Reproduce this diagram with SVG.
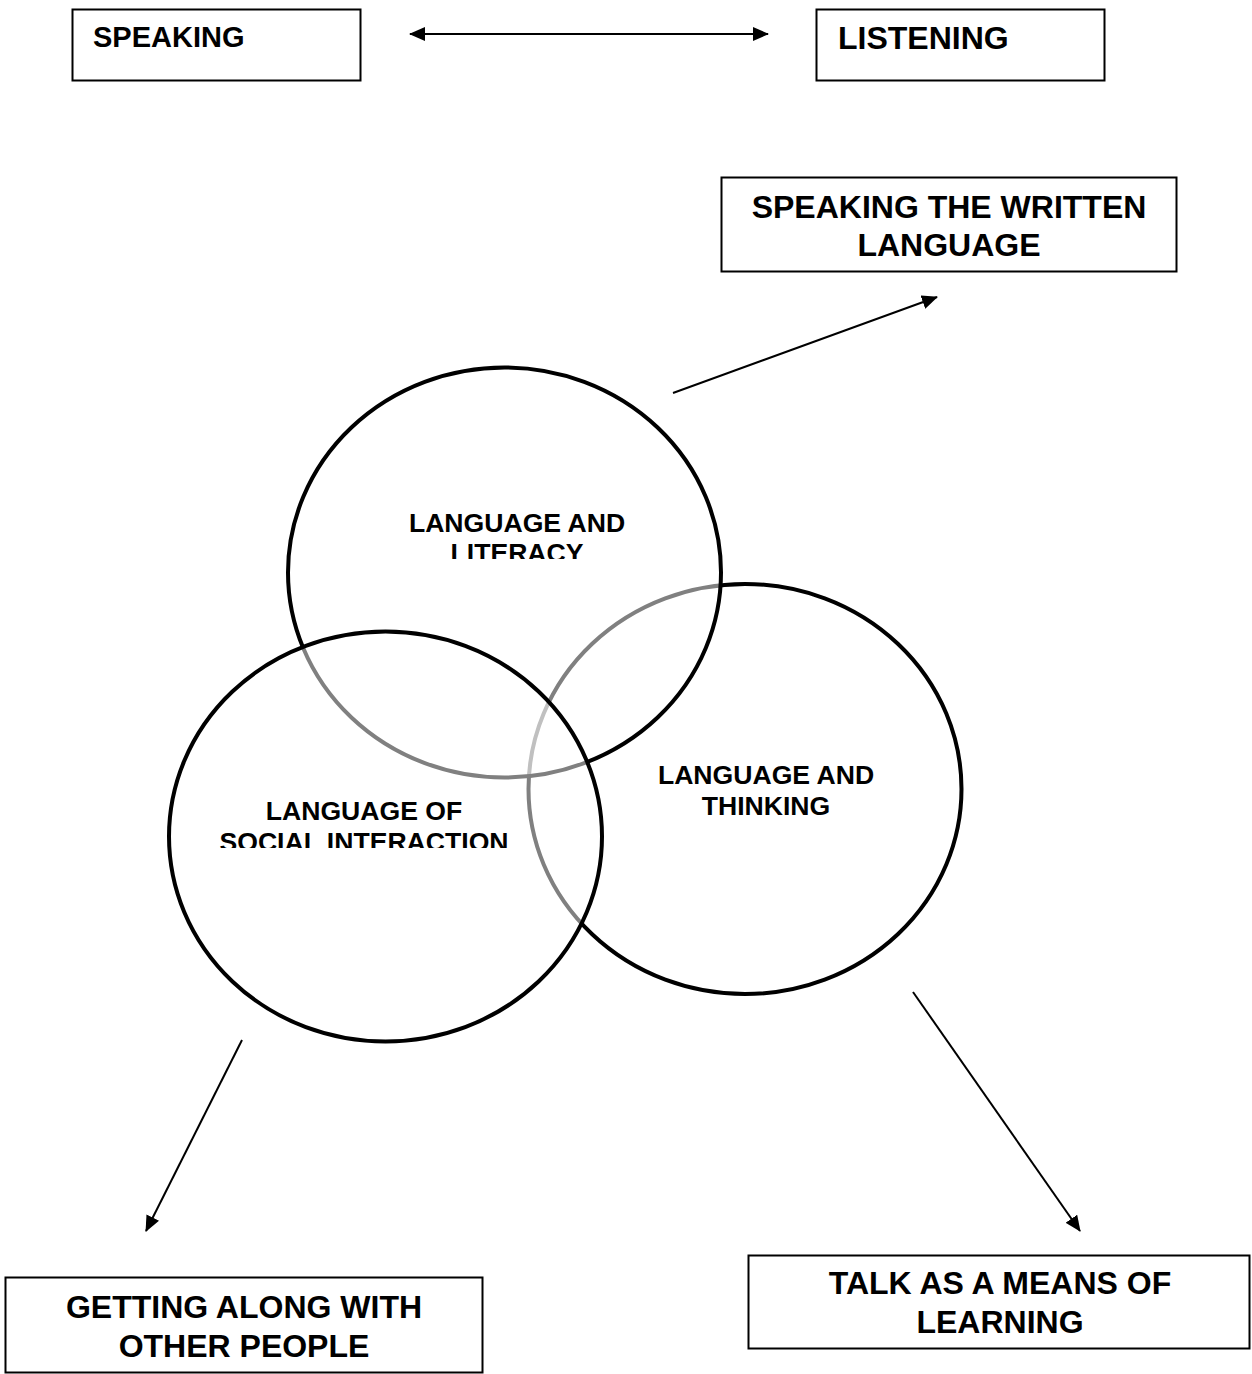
<svg xmlns="http://www.w3.org/2000/svg" width="1252" height="1374" viewBox="0 0 1252 1374">
<style>
.box{fill:#fff;stroke:#000;stroke-width:2}
.ring{fill:#fff;fill-opacity:0.5;stroke:#000;stroke-width:4}
.bt{font-family:"Liberation Sans",Arial,sans-serif;font-weight:bold;font-size:32px;fill:#000}
.ct{font-family:"Liberation Sans",Arial,sans-serif;font-weight:bold;font-size:26.6px;fill:#000;text-anchor:middle}
.mid{text-anchor:middle}
.conn{stroke:#000;stroke-width:2;fill:none}
</style>
<defs>
<marker id="ah" viewBox="0 0 16 14" refX="15" refY="7" markerWidth="16" markerHeight="14" markerUnits="userSpaceOnUse" orient="auto-start-reverse">
<path d="M0,0 L16,7 L0,14 Z" fill="#000"/>
</marker>
<clipPath id="clipLit"><rect x="280" y="490" width="460" height="69"/></clipPath>
<clipPath id="clipSoc"><rect x="160" y="780" width="460" height="68"/></clipPath>
</defs>
<rect width="1252" height="1374" fill="#fff"/>
<g id="speaking">
<rect class="box" x="72.5" y="9.5" width="288" height="71"/>
<text class="bt" x="93" y="47" style="font-size:29px">SPEAKING</text>
</g>
<g id="listening">
<rect class="box" x="816.5" y="9.5" width="288" height="71"/>
<text class="bt" x="838" y="49">LISTENING</text>
</g>
<g id="speaking-written">
<rect class="box" x="721.5" y="177.5" width="455" height="94"/>
<text class="bt mid" x="949" y="218">SPEAKING THE WRITTEN</text>
<text class="bt mid" x="949" y="256">LANGUAGE</text>
</g>
<g id="thinking">
<ellipse class="ring" cx="745" cy="789" rx="216.5" ry="205"/>
<text class="ct" x="766" y="784">LANGUAGE AND</text>
<text class="ct" x="766" y="815">THINKING</text>
</g>
<g id="literacy">
<ellipse class="ring" cx="504.5" cy="572.5" rx="216.5" ry="205"/>
<g clip-path="url(#clipLit)">
<text class="ct" x="517" y="532">LANGUAGE AND</text>
<text class="ct" x="517" y="562">LITERACY</text>
</g>
</g>
<g id="social">
<ellipse class="ring" cx="385.5" cy="836.5" rx="216.5" ry="205"/>
<g clip-path="url(#clipSoc)">
<text class="ct" x="364" y="820">LANGUAGE OF</text>
<text class="ct" x="364" y="851">SOCIAL INTERACTION</text>
</g>
</g>
<g id="getting-along">
<rect class="box" x="5.5" y="1277.5" width="477" height="95"/>
<text class="bt mid" x="244" y="1318">GETTING ALONG WITH</text>
<text class="bt mid" x="244" y="1357">OTHER PEOPLE</text>
</g>
<g id="talk-learning">
<rect class="box" x="748.5" y="1255.5" width="501" height="93"/>
<text class="bt mid" x="1000" y="1294">TALK AS A MEANS OF</text>
<text class="bt mid" x="1000" y="1333">LEARNING</text>
</g>
<g id="connectors">
<line class="conn" x1="410" y1="34" x2="768" y2="34" marker-start="url(#ah)" marker-end="url(#ah)"/>
<line class="conn" x1="673" y1="393" x2="937" y2="297" marker-end="url(#ah)"/>
<line class="conn" x1="242" y1="1040" x2="146" y2="1231" marker-end="url(#ah)"/>
<line class="conn" x1="913" y1="992" x2="1080" y2="1231" marker-end="url(#ah)"/>
</g>
</svg>
